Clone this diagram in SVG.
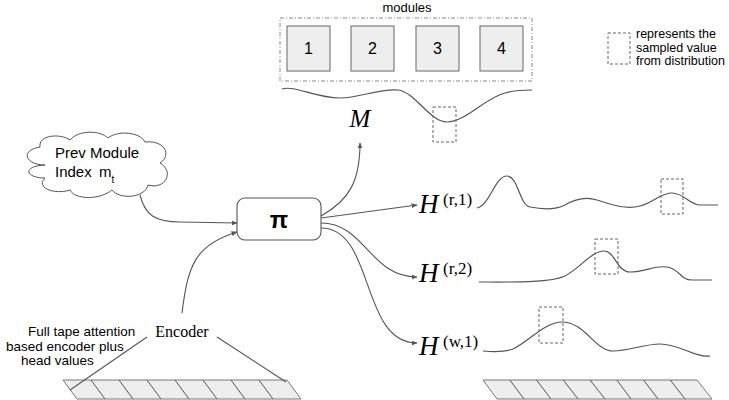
<svg xmlns="http://www.w3.org/2000/svg" width="729" height="400" viewBox="0 0 729 400">
<defs>
<style>
.sans{font-family:"Liberation Sans",Arial,sans-serif;fill:#000}
.serif{font-family:"Liberation Serif","Times New Roman",serif;fill:#000}
.mod{fill:#eeeeee;stroke:#666;stroke-width:1}
.wave{fill:none;stroke:#555;stroke-width:1.2}
.samp{fill:none;stroke:#666;stroke-width:1;stroke-dasharray:3,2}
.conn{fill:none;stroke:#555;stroke-width:1.1}
.tape{fill:#eeeeee;stroke:#777;stroke-width:1}
.cell{fill:none;stroke:#555;stroke-width:1}
</style>
<marker id="arr" viewBox="0 0 10 10" refX="9" refY="5" markerWidth="6" markerHeight="6" orient="auto" markerUnits="userSpaceOnUse">
<path d="M0,1 L10,5 L0,9 Z" fill="#555"/>
</marker>
</defs>
<rect width="729" height="400" fill="#fff"/>

<g id="modules">
<text class="sans" x="407" y="12" font-size="13" text-anchor="middle">modules</text>
<rect x="280" y="18" width="252" height="63" fill="none" stroke="#888" stroke-width="1" stroke-dasharray="4,2,1,2"/>
<rect class="mod" x="287" y="26" width="43" height="45"/>
<rect class="mod" x="351" y="26" width="43" height="45"/>
<rect class="mod" x="416" y="26" width="43" height="45"/>
<rect class="mod" x="480" y="26" width="43" height="45"/>
<text class="sans" x="308.5" y="54" font-size="16" text-anchor="middle">1</text>
<text class="sans" x="372.5" y="54" font-size="16" text-anchor="middle">2</text>
<text class="sans" x="437.5" y="54" font-size="16" text-anchor="middle">3</text>
<text class="sans" x="501.5" y="54" font-size="16" text-anchor="middle">4</text>
</g>

<g id="M-dist">
<path class="wave" d="M282,89 C295,85 315,98 340,98 C360,98 380,88 398,90 C415,92 430,122 447,122 C465,122 485,98 505,93 C515,90 525,90 532,90"/>
<rect class="samp" x="433" y="107" width="23" height="35"/>
<text class="serif" x="360" y="127" font-size="25" font-style="italic" text-anchor="middle">M</text>
</g>

<g id="legend">
<rect class="samp" x="608" y="33" width="22" height="31"/>
<text class="sans" x="636" y="38" font-size="12.5">represents the</text>
<text class="sans" x="636" y="51.5" font-size="12.5">sampled value</text>
<text class="sans" x="636" y="65" font-size="12.5">from distribution</text>
</g>

<g id="cloud">
<path d="M45,165 C25,165 20,150 40,147 C38,135 60,133 70,140 C78,130 100,130 108,138 C118,130 140,132 145,142 C165,140 172,155 160,163 C175,172 165,190 148,185 C145,198 120,200 112,190 C100,200 75,200 70,190 C55,195 35,188 45,178 C25,178 22,166 45,165 Z" fill="#fff" stroke="#555" stroke-width="1"/>
<text class="sans" x="55" y="158" font-size="15">Prev Module</text>
<text class="sans" x="55" y="177" font-size="15">Index</text>
<text class="sans" x="99" y="177" font-size="15">m<tspan font-size="10" dy="6">t</tspan></text>
</g>

<g id="pi">
<rect x="237" y="198" width="84" height="42" rx="8" ry="8" fill="#fff" stroke="#555" stroke-width="1.1"/>
<text class="sans" x="279" y="228" font-size="24" font-weight="bold" text-anchor="middle">π</text>
</g>

<g id="Hr1">
<text class="serif" x="419" y="213" font-size="27" font-style="italic">H</text>
<text class="serif" x="443" y="205" font-size="17">(r,1)</text>
<path class="wave" d="M477,208 C490,205 495,176 507,176 C518,176 520,206 530,207 C540,209 555,210 565,205 C575,199 585,196 597,200 C610,204 625,210 640,206 C655,202 660,193 672,193 C684,193 690,205 700,205 L718,205"/>
<rect class="samp" x="661" y="179" width="22" height="35"/>
</g>

<g id="Hr2">
<text class="serif" x="419" y="282" font-size="27" font-style="italic">H</text>
<text class="serif" x="443" y="274" font-size="17">(r,2)</text>
<path class="wave" d="M479,282 C510,282 550,283 565,276 C580,268 592,251 604,251 C615,251 617,272 630,272 C645,272 655,265 667,267 C680,269 680,280 692,280 L712,280"/>
<rect class="samp" x="595" y="239" width="23" height="35"/>
</g>

<g id="Hw1">
<text class="serif" x="419" y="355" font-size="27" font-style="italic">H</text>
<text class="serif" x="443" y="347" font-size="17">(w,1)</text>
<path class="wave" d="M483,351 C495,352 505,352 513,349 C528,342 545,322 562,322 C585,322 595,351 613,351 C628,351 645,344 660,344 C680,344 695,358 710,356"/>
<rect class="samp" x="539" y="307" width="24" height="36"/>
</g>

<g id="encoder">
<text class="serif" x="182" y="337" font-size="16" text-anchor="middle">Encoder</text>
</g>

<g id="note">
<text class="sans" x="28" y="336" font-size="13.5">Full tape attention</text>
<text class="sans" x="6" y="350.5" font-size="13.5">based encoder plus</text>
<text class="sans" x="21" y="365" font-size="13.5">head values</text>
</g>

<g id="tape-left">
<path class="tape" d="M63,380 L287,380 L301,399 L77,399 Z"/>
<path class="cell" d="M91,380 L105,399 M119,380 L133,399 M147,380 L161,399 M175,380 L189,399 M203,380 L217,399 M231,380 L245,399 M259,380 L273,399"/>
</g>

<g id="tape-right">
<path class="tape" d="M483,380 L697,380 L712,399 L497,399 Z"/>
<path class="cell" d="M509.8,380 L524,399 M536.5,380 L551,399 M563.3,380 L578,399 M590,380 L605,399 M616.8,380 L631,399 M643.5,380 L658,399 M670.3,380 L685,399"/>
</g>

<g id="connectors">
<path class="conn" d="M140,195 C145,215 155,222 180,222 L237,223" marker-end="url(#arr)"/>
<path class="conn" d="M182,313 C188,265 195,245 237,232" marker-end="url(#arr)"/>
<path class="conn" d="M321,216 C350,200 360,180 360,143" marker-end="url(#arr)"/>
<path class="conn" d="M321,218 L417,205" marker-end="url(#arr)"/>
<path class="conn" d="M321,223 C365,223 370,277 417,277" marker-end="url(#arr)"/>
<path class="conn" d="M321,228 C375,228 360,343 417,343" marker-end="url(#arr)"/>
<path class="conn" d="M147,337 L70,390"/>
<path class="conn" d="M217,337 L286,382"/>
</g>
</svg>
